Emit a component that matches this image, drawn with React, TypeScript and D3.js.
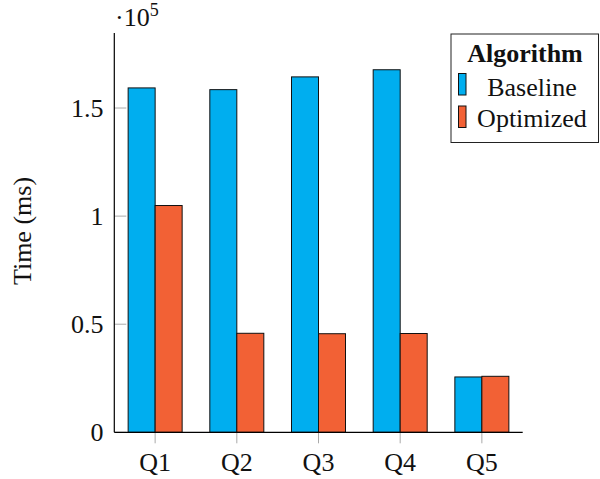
import React from "react";
import * as d3 from "d3";

const categories = ["Q1", "Q2", "Q3", "Q4", "Q5"];
const seriesNames = ["Baseline", "Optimized"];
const baseline = [159300, 158500, 164400, 167700, 25600];
const optimized = [104900, 45800, 45600, 45700, 25900];
const yTicks = [0, 50000, 100000, 150000];
const yTickLabels = ["0", "0.5", "1", "1.5"];
const colors = ["#00aeef", "#f26135"];

const W = 600;
const H = 479;
const left = 114.3;
const right = 522.7;
const top = 33;
const bottom = 432.3;
const font = "'Liberation Serif', 'Times New Roman', serif";
const fs = 26;

export default function App() {
  const x = d3.scaleBand<string>().domain(categories).range([left, right]).paddingInner(0).paddingOuter(0);
  const y = d3.scaleLinear().domain([0, 184700]).range([bottom, top]);
  const barW = 27;
  const series = [baseline, optimized];

  return (
    <svg width={W} height={H} style={{ position: "absolute", left: 0, top: 0, background: "#fff" }} fontFamily={font}>
      {series.map((vals, si) =>
        vals.map((v, i) => {
          const cx = (x(categories[i]) as number) + x.bandwidth() / 2;
          const bx = si === 0 ? cx - barW : cx;
          return (
            <rect
              key={`${si}-${i}`}
              x={bx}
              y={y(v)}
              width={barW}
              height={y(0) - y(v)}
              fill={colors[si]}
              stroke="#111"
              strokeWidth={1}
            />
          );
        })
      )}
      {yTicks.map((t, i) => (
        <g key={t}>
          <line x1={left} x2={left + 12} y1={y(t)} y2={y(t)} stroke="#aaa" strokeWidth={1} />
          <text x={103.5} y={y(t)} dy="0.35em" textAnchor="end" fontSize={fs} fill="#111">
            {yTickLabels[i]}
          </text>
        </g>
      ))}
      {categories.map((c) => {
        const cx = (x(c) as number) + x.bandwidth() / 2;
        return (
          <g key={c}>
            <line x1={cx} x2={cx} y1={bottom} y2={bottom + 11} stroke="#aaa" strokeWidth={1} />
            <text x={cx} y={470.5} textAnchor="middle" fontSize={fs} fill="#111">
              {c}
            </text>
          </g>
        );
      })}
      <line x1={left} x2={left} y1={top} y2={bottom} stroke="#000" strokeWidth={1.2} />
      <line x1={left} x2={right} y1={bottom} y2={bottom} stroke="#000" strokeWidth={1.2} />
      <text x={115} y={26} fontSize={fs} fill="#111">
        ·10
        <tspan dy={-10} fontSize={18}>5</tspan>
      </text>
      <text
        transform={`translate(31, 231) rotate(-90)`}
        textAnchor="middle"
        fontSize={fs}
        fill="#111"
      >
        Time (ms)
      </text>
      <rect x={451} y={34} width={147.5} height={108.5} fill="#fff" stroke="#222" strokeWidth={1} />
      <text x={525} y={62} textAnchor="middle" fontSize={fs} fontWeight="bold" fill="#111">
        Algorithm
      </text>
      {seriesNames.map((n, i) => (
        <g key={n}>
          <rect x={458.5} y={73.5 + i * 32.5} width={7.5} height={21.5} fill={colors[i]} stroke="#111" strokeWidth={1} />
          <text x={532} y={95.5 + i * 31.5} textAnchor="middle" fontSize={fs} fill="#111">
            {n}
          </text>
        </g>
      ))}
    </svg>
  );
}
